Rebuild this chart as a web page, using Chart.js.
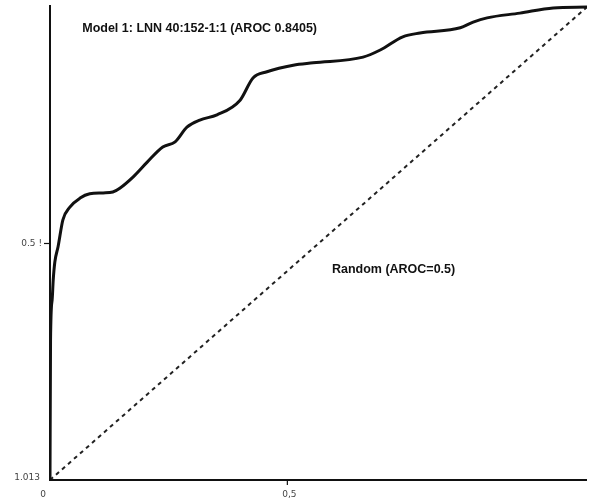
<!DOCTYPE html>
<html>
<head>
<meta charset="utf-8">
<script src="https://cdn.jsdelivr.net/npm/chart.js@4"></script>
<style>
    html, body { margin: 0; padding: 0; background: #fff; }
    #wrap { width: 589px; height: 501px; }
</style>
</head>
<body>
<div id="wrap"><canvas id="rocChart" width="589" height="501"></canvas></div>
<script>
// ---- Data ----
const fpr = [0, 0.001, 0.004, 0.006, 0.009, 0.015, 0.024, 0.037, 0.056, 0.074, 0.099, 0.117, 0.130,
    0.155, 0.181, 0.210, 0.233, 0.255, 0.279, 0.311, 0.354, 0.378, 0.404, 0.453, 0.490, 0.583,
    0.615, 0.657, 0.689, 0.764, 0.788, 0.814, 0.875, 0.937, 1.0];
const tpr = [0, 0.296, 0.381, 0.423, 0.461, 0.493, 0.550, 0.577, 0.596, 0.605, 0.607, 0.609, 0.617,
    0.641, 0.672, 0.704, 0.715, 0.746, 0.761, 0.772, 0.803, 0.850, 0.863, 0.877, 0.882, 0.894,
    0.909, 0.937, 0.945, 0.956, 0.968, 0.977, 0.987, 0.998, 1.0];
const randomLine = [0, 1];

const xTickValues = [0, 0.442];
const xTickLabels = ['0', '0,5'];
const yTickValues = [0.013, 0.5];
const yTickLabels = ['1.013', '0.5 !'];

const modelLabel = 'Model 1: LNN 40:152-1:1 (AROC 0.8405)';
const randomLabel = 'Random (AROC=0.5)';

// ---- Axes, ticks and annotations drawn through the scales ----
const scanAxes = {
    id: 'scanAxes',
    afterDatasetsDraw(chart) {
        const { ctx, chartArea, scales } = chart;
        const x = scales.x, y = scales.y;
        ctx.save();
        ctx.strokeStyle = '#111';
        ctx.lineWidth = 2;
        ctx.beginPath();
        ctx.moveTo(chartArea.left, chartArea.top);
        ctx.lineTo(chartArea.left, chartArea.bottom);
        ctx.lineTo(chartArea.right, chartArea.bottom);
        ctx.stroke();

        ctx.lineWidth = 1.2;
        ctx.fillStyle = '#444';
        ctx.font = '9px "DejaVu Sans"';
        // y ticks
        ctx.textAlign = 'right';
        ctx.textBaseline = 'middle';
        yTickValues.forEach((v, i) => {
            const py = y.getPixelForValue(v);
            if (v > 0.1) {
                ctx.beginPath();
                ctx.moveTo(chartArea.left - 6, py);
                ctx.lineTo(chartArea.left, py);
                ctx.stroke();
                ctx.fillText(yTickLabels[i], chartArea.left - 8, py);
            } else {
                ctx.fillText(yTickLabels[i], chartArea.left - 10, py + 4);
            }
        });
        // x ticks
        ctx.textAlign = 'center';
        ctx.textBaseline = 'top';
        xTickValues.forEach((v, i) => {
            const px = x.getPixelForValue(v);
            if (v > 0.1) {
                ctx.beginPath();
                ctx.moveTo(px, chartArea.bottom);
                ctx.lineTo(px, chartArea.bottom + 5);
                ctx.stroke();
            }
            ctx.fillText(xTickLabels[i], px + (i === 0 ? -7 : 2), chartArea.bottom + 10);
        });

        // curve labels
        ctx.fillStyle = '#111';
        ctx.font = 'bold 12.5px "Liberation Sans"';
        ctx.textAlign = 'left';
        ctx.textBaseline = 'middle';
        ctx.fillText(modelLabel, x.getPixelForValue(0.06), y.getPixelForValue(0.955));
        ctx.fillText(randomLabel, x.getPixelForValue(0.525), y.getPixelForValue(0.445));
        ctx.restore();
    }
};

const ctx = document.getElementById('rocChart').getContext('2d');
new Chart(ctx, {
    type: 'line',
    data: {
        datasets: [
            {
                label: 'Model 1',
                data: fpr.map((v, i) => ({ x: v, y: tpr[i] })),
                borderColor: '#111',
                borderWidth: 3,
                pointRadius: 0,
                fill: false,
                cubicInterpolationMode: 'monotone'
            },
            {
                label: 'Random',
                data: randomLine.map(v => ({ x: v, y: v })),
                borderColor: '#222',
                borderWidth: 2,
                borderDash: [4, 4],
                pointRadius: 0,
                fill: false
            }
        ]
    },
    options: {
        responsive: false,
        animation: false,
        layout: { padding: { left: 50, right: 2, top: 5, bottom: 21 } },
        plugins: { legend: { display: false }, tooltip: { enabled: false } },
        scales: {
            x: { type: 'linear', min: 0, max: 1, display: false },
            y: { type: 'linear', min: 0, max: 1.0042, display: false }
        }
    },
    plugins: [scanAxes]
});
</script>
</body>
</html>
